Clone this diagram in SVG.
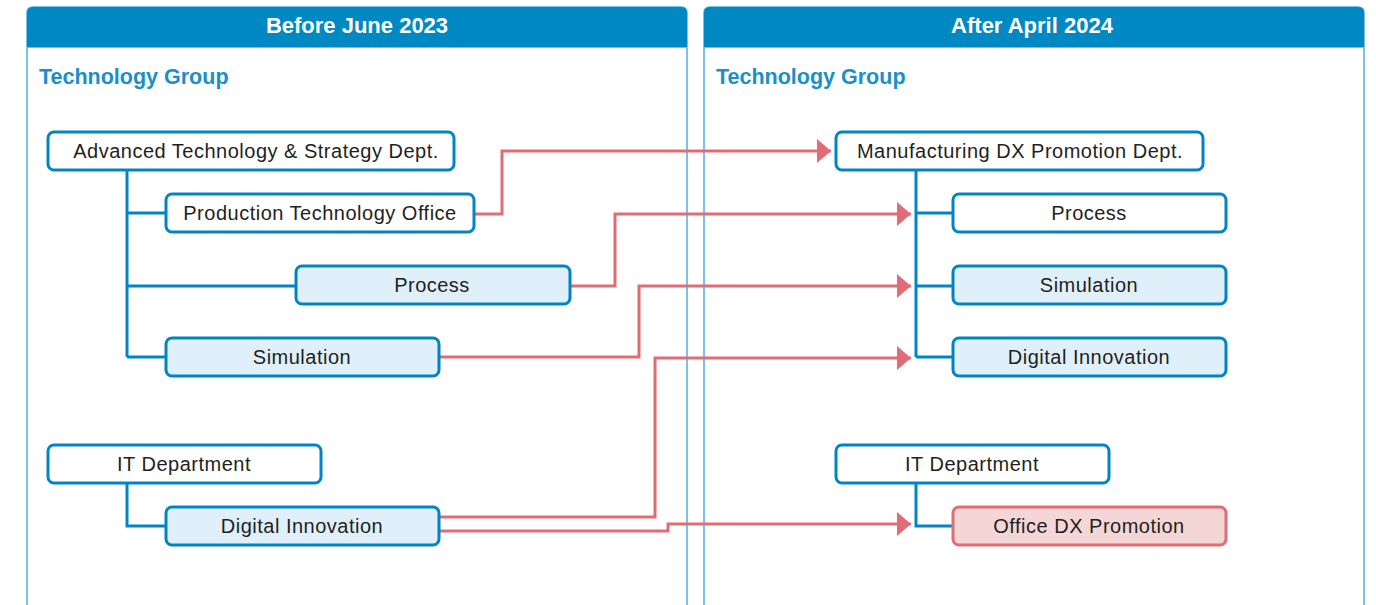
<svg xmlns="http://www.w3.org/2000/svg" width="1376" height="605" viewBox="0 0 1376 605">
<defs>
<style>
.panel{fill:#fff;stroke:#4fb0de;stroke-width:1.5}
.hdr{fill:#0088c2}
.htxt{font-family:"Liberation Sans",Arial,sans-serif;font-weight:bold;font-size:22px;fill:#fff;text-anchor:middle}
.grp{font-family:"Liberation Sans",Arial,sans-serif;font-weight:bold;font-size:21.5px;fill:#1a8fc8}
.box{fill:#fff;stroke:#0085c3;stroke-width:3}
.boxb{fill:#dff0fa;stroke:#0085c3;stroke-width:3}
.boxr{fill:#f5d6d6;stroke:#e06c75;stroke-width:3}
.t{font-family:"Liberation Sans",Arial,sans-serif;font-size:20px;letter-spacing:0.5px;fill:#231f20;text-anchor:middle}
.tree{fill:none;stroke:#0085c3;stroke-width:3}
.red{fill:none;stroke:#e06c75;stroke-width:3}
</style>
<marker id="ah" viewBox="0 0 14 24" refX="14" refY="12" markerWidth="14" markerHeight="24" markerUnits="userSpaceOnUse" orient="auto">
<path d="M0,0 L14,12 L0,24 Z" fill="#e06c75"/>
</marker>
</defs>

<g id="panel-before">
<path class="panel" d="M27,605 V13 Q27,7 33,7 H681 Q687,7 687,13 V605"/>
<path class="hdr" d="M27,47 V13 Q27,7 33,7 H681 Q687,7 687,13 V47 Z"/>
<line x1="27" y1="47.5" x2="687" y2="47.5" stroke="#6cc0e6" stroke-width="1"/>
<text class="htxt" x="357" y="33">Before June 2023</text>
<text class="grp" x="39" y="84">Technology Group</text>
</g>

<g id="panel-after">
<path class="panel" d="M704,605 V13 Q704,7 710,7 H1358 Q1364,7 1364,13 V605"/>
<path class="hdr" d="M704,47 V13 Q704,7 710,7 H1358 Q1364,7 1364,13 V47 Z"/>
<line x1="704" y1="47.5" x2="1364" y2="47.5" stroke="#6cc0e6" stroke-width="1"/>
<text class="htxt" x="1032" y="33">After April 2024</text>
<text class="grp" x="716" y="84">Technology Group</text>
</g>

<g id="connectors">
<path class="tree" d="M127,171 V357 M127,213 H166 M127,286 H296 M127,357 H166"/>
<path class="tree" d="M127,483 V526 H166"/>
<path class="tree" d="M916,171 V357 M916,213 H953 M916,286 H953 M916,357 H953"/>
<path class="tree" d="M916,483 V526 H953"/>
<path class="red" d="M474,214 H502 V151 H831" marker-end="url(#ah)"/>
<path class="red" d="M570,286 H615 V214 H911" marker-end="url(#ah)"/>
<path class="red" d="M439,357 H639 V286 H911" marker-end="url(#ah)"/>
<path class="red" d="M439,517 H655 V358 H911" marker-end="url(#ah)"/>
<path class="red" d="M439,531 H668 V524 H911" marker-end="url(#ah)"/>
</g>

<g id="n-adv">
<rect class="box" x="48" y="132" width="406" height="38" rx="6"/>
<text class="t" x="256" y="158">Advanced Technology &amp; Strategy Dept.</text>
</g>
<g id="n-prodtech">
<rect class="box" x="166" y="194" width="308" height="38" rx="6"/>
<text class="t" x="320" y="220">Production Technology Office</text>
</g>
<g id="n-process-before">
<rect class="boxb" x="296" y="266" width="274" height="38" rx="6"/>
<text class="t" x="432" y="292">Process</text>
</g>
<g id="n-sim-before">
<rect class="boxb" x="166" y="338" width="273" height="38" rx="6"/>
<text class="t" x="302" y="364">Simulation</text>
</g>
<g id="n-it-before">
<rect class="box" x="48" y="445" width="273" height="38" rx="6"/>
<text class="t" x="184" y="471">IT Department</text>
</g>
<g id="n-di-before">
<rect class="boxb" x="166" y="507" width="273" height="38" rx="6"/>
<text class="t" x="302" y="533">Digital Innovation</text>
</g>

<g id="n-mfg">
<rect class="box" x="836" y="132" width="367" height="38" rx="6"/>
<text class="t" x="1020" y="158">Manufacturing DX Promotion Dept.</text>
</g>
<g id="n-process-after">
<rect class="box" x="953" y="194" width="273" height="38" rx="6"/>
<text class="t" x="1089" y="220">Process</text>
</g>
<g id="n-sim-after">
<rect class="boxb" x="953" y="266" width="273" height="38" rx="6"/>
<text class="t" x="1089" y="292">Simulation</text>
</g>
<g id="n-di-after">
<rect class="boxb" x="953" y="338" width="273" height="38" rx="6"/>
<text class="t" x="1089" y="364">Digital Innovation</text>
</g>
<g id="n-it-after">
<rect class="box" x="836" y="445" width="273" height="38" rx="6"/>
<text class="t" x="972" y="471">IT Department</text>
</g>
<g id="n-office">
<rect class="boxr" x="953" y="507" width="273" height="38" rx="6"/>
<text class="t" x="1089" y="533">Office DX Promotion</text>
</g>
</svg>
